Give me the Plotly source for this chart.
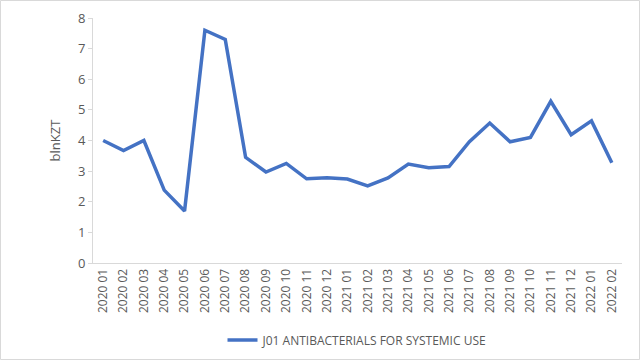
import plotly.graph_objects as go

months = ["2020 01", "2020 02", "2020 03", "2020 04", "2020 05", "2020 06", "2020 07",
          "2020 08", "2020 09", "2020 10", "2020 11", "2020 12", "2021 01", "2021 02",
          "2021 03", "2021 04", "2021 05", "2021 06", "2021 07", "2021 08", "2021 09",
          "2021 10", "2021 11", "2021 12", "2022 01", "2022 02"]
values = [4.0, 3.67, 4.0, 2.38, 1.7, 7.6, 7.3, 3.45, 2.97, 3.25, 2.75, 2.78, 2.74, 2.52,
          2.78, 3.23, 3.11, 3.15, 3.96, 4.57, 3.96, 4.1, 5.28, 4.19, 4.64, 3.27]
series_name = "J01 ANTIBACTERIALS FOR SYSTEMIC USE"
y_ticks = [0, 1, 2, 3, 4, 5, 6, 7, 8]

L, R, T, B = 93, 18, 18, 97
W, H = 640 - L - R, 360 - T - B

fig = go.Figure()
fig.add_trace(go.Scatter(x=months, y=values, mode="lines", name=series_name,
                         line=dict(color="#4472C4", width=3.5)))

font_family = "Open Sans, Liberation Sans, sans-serif"
fig.update_layout(
    width=640, height=360,
    margin=dict(l=L, r=R, t=T, b=B, autoexpand=False),
    paper_bgcolor="white", plot_bgcolor="white",
    font=dict(family=font_family, color="#595959", size=12),
    showlegend=True,
    legend=dict(orientation="h", x=0.5, xanchor="center", y=-77 / H, yanchor="middle",
                font=dict(size=12, color="#595959"), bgcolor="rgba(0,0,0,0)"),
    xaxis=dict(type="category", range=[-0.5, len(months) - 0.5], tickangle=-90,
               automargin=False,
               showgrid=False, showline=True, linecolor="#d9d9d9", linewidth=1,
               ticks="", tickfont=dict(size=12, color="#595959"), zeroline=False),
    yaxis=dict(range=[0, 8], tickvals=y_ticks, showgrid=False, showline=True,
               automargin=False,
               linecolor="#d9d9d9", linewidth=1, ticks="outside", ticklen=4,
               tickcolor="#d9d9d9", tickfont=dict(size=13, color="#595959"),
               zeroline=False,
               title=dict(text="blnKZT", font=dict(size=13, color="#595959"), standoff=14)),
    shapes=[dict(type="rect", xref="paper", yref="paper", layer="above",
                 x0=(-L + 0.5) / W, x1=1 + (R - 0.5) / W,
                 y0=(-B + 0.5) / H, y1=1 + (T - 0.5) / H,
                 line=dict(color="#d9d9d9", width=1), fillcolor="rgba(0,0,0,0)")],
)

fig.write_html("out.html", config={"displayModeBar": False},
               post_script="document.body.style.margin='0';document.body.style.overflow='hidden';")
